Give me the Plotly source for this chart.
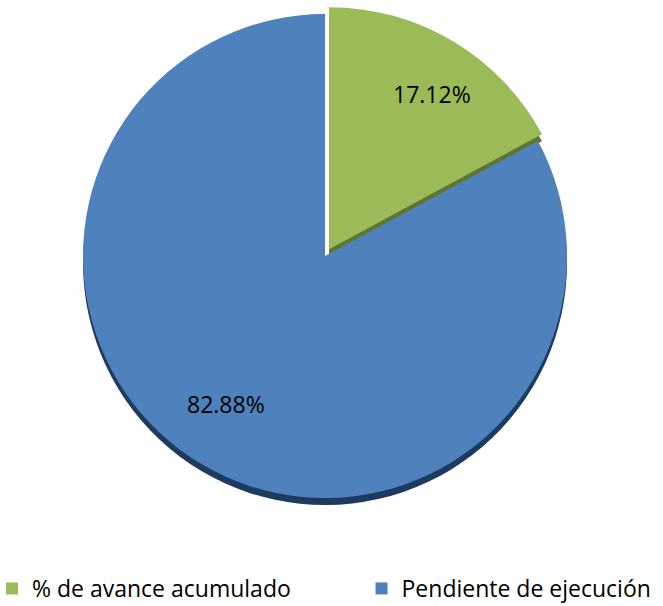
import math
import plotly.graph_objects as go

labels = ["% de avance acumulado", "Pendiente de ejecución"]
values = [17.12, 82.88]
text_labels = ["17.12%", "82.88%"]
colors = ["#9BBB59", "#4F81BD"]
shadow_colors = ["#5E7530", "#1F3A5F"]
pulls = [0.033, 0.0]

W, H = 663, 606
B = 39                      # bottom margin holding the legend
PH = H - B                  # plot-area height
cx_px, cy_px, r_px = 325, 256, 242
half = r_px * (1 + max(pulls))
shadow_dy = 7

# legend entries spaced like the reference (invisible trailing padding on first entry)
legend_labels = [labels[0] + "\u00a0" * 11, labels[1]]

def dom(dy=0):
    return dict(
        x=[(cx_px - half) / W, (cx_px + half) / W],
        y=[(PH - (cy_px + half + dy)) / PH, (PH - (cy_px - half + dy)) / PH],
    )

fig = go.Figure()
fig.add_trace(go.Pie(
    labels=legend_labels, values=values, sort=False, direction="clockwise", rotation=0,
    pull=pulls, marker=dict(colors=shadow_colors, line=dict(width=0)),
    textinfo="none", hoverinfo="skip", showlegend=False, domain=dom(shadow_dy),
))
fig.add_trace(go.Pie(
    labels=legend_labels, values=values, sort=False, direction="clockwise", rotation=0,
    pull=pulls, marker=dict(colors=colors, line=dict(width=0)),
    textinfo="none", showlegend=True, domain=dom(0),
    hovertext=labels, hovertemplate="%{hovertext}: %{value}%<extra></extra>",
))

total = sum(values)
cum = 0
for v, t, p in zip(values, text_labels, pulls):
    mid = 2 * math.pi * (cum + v / 2) / total
    cum += v
    rr = r_px * (0.80 + 2 * p)
    x_px = cx_px + rr * math.sin(mid)
    y_px = cy_px - rr * math.cos(mid)
    fig.add_annotation(x=x_px / W, y=(PH - y_px) / PH, xref="paper", yref="paper",
                       text=t, showarrow=False,
                       font=dict(family="Open Sans", size=23, color="#000000"))

fig.update_layout(
    width=W, height=H,
    margin=dict(l=0, r=0, t=0, b=B, autoexpand=False),
    paper_bgcolor="white", plot_bgcolor="white",
    font=dict(family="Open Sans", size=23, color="#000000"),
    legend=dict(orientation="h", x=-8 / W, xanchor="left", y=0, yanchor="top",
                maxheight=80,
                font=dict(family="Open Sans", size=23, color="#000000"),
                itemwidth=30, bgcolor="rgba(0,0,0,0)"),
)
fig.write_html("out.html", config={"displayModeBar": False},
               post_script="document.body.style.margin='0';")
